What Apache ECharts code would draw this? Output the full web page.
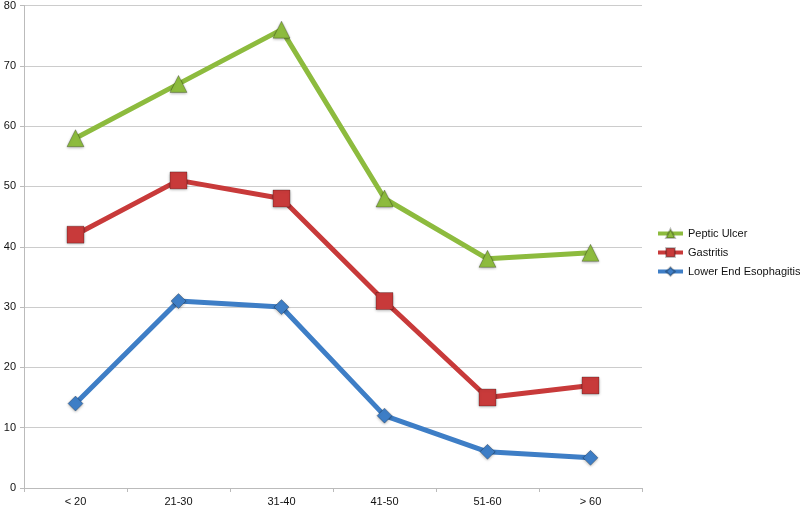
<!DOCTYPE html>
<html><head><meta charset="utf-8">
<script src="https://cdn.jsdelivr.net/npm/echarts@6/dist/echarts.min.js"></script>
<style>html,body{margin:0;padding:0;background:#fff}#c{width:800px;height:507px}</style>
</head><body><div id="c"></div>
<script>
const categories = ['< 20', '21-30', '31-40', '41-50', '51-60', '> 60'];
const pepticUlcer = [58, 67, 76, 48, 38, 39];
const gastritis = [42, 51, 48, 31, 15, 17];
const esophagitis = [14, 31, 30, 12, 6, 5];
const yTicks = [0, 10, 20, 30, 40, 50, 60, 70, 80];

const chart = echarts.init(document.getElementById('c'));
const font = 'Liberation Sans, Arial, sans-serif';
function ser(name, data, color, symbol, size) {
  return {
    name, type: 'line', data, symbol, symbolSize: size,
    lineStyle: {color, width: 5},
    itemStyle: {color, borderColor: 'rgba(0,0,0,0.25)', borderWidth: 1, shadowColor: 'rgba(0,0,0,0.3)', shadowBlur: 3, shadowOffsetY: 1},
    emphasis: {disabled: true}
  };
}
chart.setOption({
  animation: false,
  grid: {left: 24, right: 158, top: 4, bottom: 18},
  legend: {
    orient: 'vertical', left: 656, top: 228, padding: 0, itemGap: 8, itemWidth: 25, itemHeight: 11,
    lineStyle: {width: 4},
    textStyle: {fontFamily: font, fontSize: 11, color: '#111'},
    data: ['Peptic Ulcer', 'Gastritis', 'Lower End Esophagitis']
  },
  xAxis: {
    type: 'category', data: categories, boundaryGap: true,
    axisLine: {lineStyle: {color: '#bbb'}},
    axisTick: {show: true, length: 4, lineStyle: {color: '#bbb'}},
    axisLabel: {fontFamily: font, fontSize: 11, color: '#111', margin: 8}
  },
  yAxis: {
    type: 'value', min: 0, max: 80, interval: 10,
    axisLine: {show: true, lineStyle: {color: '#bbb'}},
    axisTick: {show: true, length: 4, lineStyle: {color: '#bbb'}},
    axisLabel: {fontFamily: font, fontSize: 11, color: '#111', margin: 8,
      formatter: v => yTicks.includes(v) ? String(v) : ''},
    splitLine: {lineStyle: {color: '#ccc'}}
  },
  series: [
    ser('Peptic Ulcer', pepticUlcer, '#8dbb3e', 'triangle', 17),
    ser('Gastritis', gastritis, '#c83a3a', 'rect', 17),
    ser('Lower End Esophagitis', esophagitis, '#3e7ec6', 'diamond', 15)
  ]
});
</script></body></html>
